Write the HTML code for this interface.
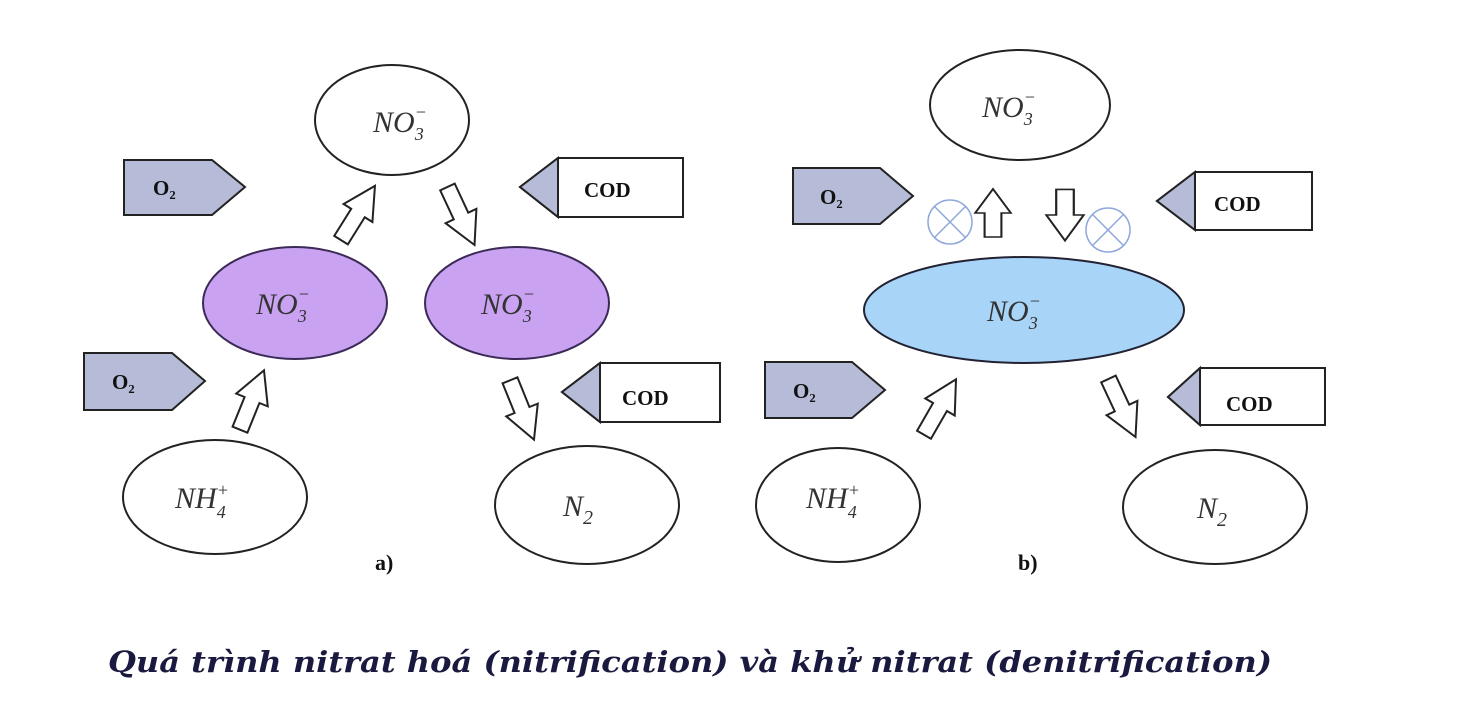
<!DOCTYPE html>
<html><head><meta charset="utf-8"><style>
html,body{margin:0;padding:0;background:#fff;width:1457px;height:706px;overflow:hidden}
svg text{font-family:"Liberation Serif",serif}
.sp{font-style:italic;font-size:30px;fill:#333}
.lb{font-weight:bold;font-size:22px;fill:#111}
.bx{font-weight:bold;font-size:21px;fill:#111}
</style></head><body>
<svg width="1457" height="706" viewBox="0 0 1457 706" xmlns="http://www.w3.org/2000/svg">
<defs>
<path id="ar" d="M-8,32 L-8,0 L-17,0 L0,-32 L17,0 L8,0 L8,32 Z" fill="#fff" stroke="#222" stroke-width="2"/>
</defs>
<g stroke="#222" stroke-width="2">
<ellipse cx="392" cy="120" rx="77" ry="55" fill="#fff"/>
<ellipse cx="295" cy="303" rx="92" ry="56" fill="#c9a2f2" stroke="#3a2a55"/>
<ellipse cx="517" cy="303" rx="92" ry="56" fill="#c9a2f2" stroke="#3a2a55"/>
<ellipse cx="215" cy="497" rx="92" ry="57" fill="#fff"/>
<ellipse cx="587" cy="505" rx="92" ry="59" fill="#fff"/>
<polygon points="124,160 212,160 245,187 212,215 124,215" fill="#b6bcd8"/>
<polygon points="84,353 172,353 205,381 172,410 84,410" fill="#b6bcd8"/>
<polygon points="558,158 683,158 683,217 558,217 520,187" fill="#fff"/>
<polygon points="558,158 558,217 520,187" fill="#b6bcd8"/>
<polygon points="600,363 720,363 720,422 600,422 562,392" fill="#fff"/>
<polygon points="600,363 600,422 562,392" fill="#b6bcd8"/>
<ellipse cx="1020" cy="105" rx="90" ry="55" fill="#fff"/>
<ellipse cx="1024" cy="310" rx="160" ry="53" fill="#a8d4f8" stroke="#223"/>
<ellipse cx="838" cy="505" rx="82" ry="57" fill="#fff"/>
<ellipse cx="1215" cy="507" rx="92" ry="57" fill="#fff"/>
<polygon points="793,168 880,168 913,196 880,224 793,224" fill="#b6bcd8"/>
<polygon points="765,362 852,362 885,390 852,418 765,418" fill="#b6bcd8"/>
<polygon points="1195,172 1312,172 1312,230 1195,230 1157,201" fill="#fff"/>
<polygon points="1195,172 1195,230 1157,201" fill="#b6bcd8"/>
<polygon points="1200,368 1325,368 1325,425 1200,425 1168,397" fill="#fff"/>
<polygon points="1200,368 1200,425 1168,397" fill="#b6bcd8"/>
</g>
<use href="#ar" transform="translate(358,213) rotate(32)"/>
<use href="#ar" transform="translate(461,216) rotate(155)"/>
<use href="#ar" transform="translate(252,400) rotate(22)"/>
<use href="#ar" transform="translate(522,410) rotate(158)"/>
<use href="#ar" transform="translate(993,213) scale(1.05,0.75)"/>
<use href="#ar" transform="translate(1065,215) rotate(180) scale(1.1,0.8)"/>
<use href="#ar" transform="translate(940,407) rotate(30)"/>
<use href="#ar" transform="translate(1122,408) rotate(155)"/>
<g stroke="#8fa8dc" stroke-width="1.5" fill="#fff">
<circle cx="950" cy="222" r="22"/><path d="M934.4,206.4 L965.6,237.6 M965.6,206.4 L934.4,237.6"/>
<circle cx="1108" cy="230" r="22"/><path d="M1092.4,214.4 L1123.6,245.6 M1123.6,214.4 L1092.4,245.6"/>
</g>
<g class="sp">
<text x="373" y="132">NO<tspan font-size="18" dy="8">3</tspan><tspan font-size="18" dx="-9" dy="-22">−</tspan></text>
<text x="256" y="314">NO<tspan font-size="18" dy="8">3</tspan><tspan font-size="18" dx="-9" dy="-22">−</tspan></text>
<text x="481" y="314">NO<tspan font-size="18" dy="8">3</tspan><tspan font-size="18" dx="-9" dy="-22">−</tspan></text>
<text x="175" y="508">NH<tspan font-size="18" dy="10">4</tspan><tspan font-size="18" dx="-9" dy="-22">+</tspan></text>
<text x="563" y="516">N<tspan font-size="20" dy="8">2</tspan></text>
<text x="982" y="117">NO<tspan font-size="18" dy="8">3</tspan><tspan font-size="18" dx="-9" dy="-22">−</tspan></text>
<text x="987" y="321">NO<tspan font-size="18" dy="8">3</tspan><tspan font-size="18" dx="-9" dy="-22">−</tspan></text>
<text x="806" y="508">NH<tspan font-size="18" dy="10">4</tspan><tspan font-size="18" dx="-9" dy="-22">+</tspan></text>
<text x="1197" y="518">N<tspan font-size="20" dy="8">2</tspan></text>
</g>
<g class="bx">
<text x="153" y="195">O₂</text>
<text x="112" y="389">O₂</text>
<text x="584" y="197">COD</text>
<text x="622" y="405">COD</text>
<text x="820" y="204">O₂</text>
<text x="793" y="398">O₂</text>
<text x="1214" y="211">COD</text>
<text x="1226" y="411">COD</text>
</g>
<text class="lb" x="375" y="570">a)</text>
<text class="lb" x="1018" y="570">b)</text>
<text x="108" y="672" textLength="1164" lengthAdjust="spacingAndGlyphs" style="font-family:'DejaVu Serif',serif;font-style:italic;font-weight:bold;font-size:29px;fill:#1a1a40">Quá trình nitrat hoá (nitrification) và khử nitrat (denitrification)</text>
</svg>
</body></html>
